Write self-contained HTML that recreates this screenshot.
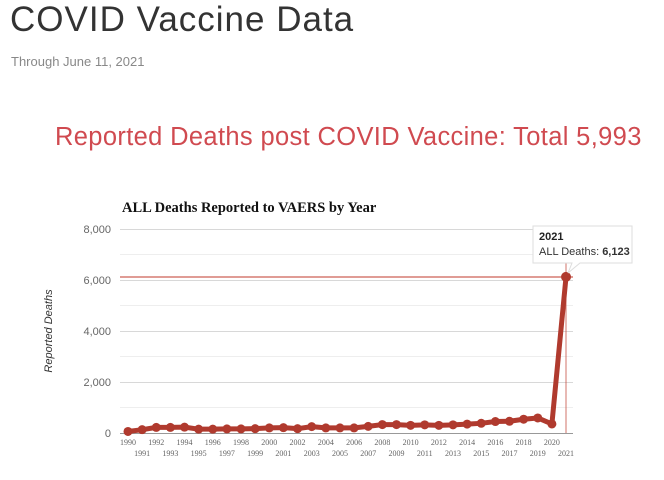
<!DOCTYPE html>
<html><head><meta charset="utf-8"><style>
body{margin:0;background:#fff;width:664px;height:480px;overflow:hidden;position:relative;font-family:"Liberation Sans",sans-serif}
.t{position:absolute;white-space:nowrap}
</style></head><body>
<div class="t" style="left:10px;top:0px;font-size:35px;color:#333;letter-spacing:1px">COVID Vaccine Data</div>
<div class="t" style="left:11px;top:54px;font-size:13px;color:#888">Through June 11, 2021</div>
<div class="t" style="left:55px;top:123px;font-size:25.5px;color:#d04a50;letter-spacing:0.35px">Reported Deaths post COVID Vaccine: Total 5,993</div>
<svg width="664" height="480" style="position:absolute;left:0;top:0" font-family="Liberation Sans, sans-serif">
<text x="122" y="212" font-family="Liberation Serif, serif" font-weight="bold" font-size="14.5" fill="#111">ALL Deaths Reported to VAERS by Year</text>
<g stroke="#eee" stroke-width="1">
<line x1="120" x2="573" y1="254.5" y2="254.5"/><line x1="120" x2="573" y1="305.5" y2="305.5"/><line x1="120" x2="573" y1="356.5" y2="356.5"/><line x1="120" x2="573" y1="407.5" y2="407.5"/>
</g>
<g stroke="#d8d8d8" stroke-width="1">
<line x1="120" x2="573" y1="229.5" y2="229.5"/><line x1="120" x2="573" y1="280.5" y2="280.5"/><line x1="120" x2="573" y1="331.5" y2="331.5"/><line x1="120" x2="573" y1="382.5" y2="382.5"/>
</g>
<line x1="120" x2="573" y1="433.5" y2="433.5" stroke="#999"/>
<g font-size="11" fill="#666" text-anchor="end">
<text x="111" y="233">8,000</text><text x="111" y="284">6,000</text><text x="111" y="335">4,000</text><text x="111" y="386">2,000</text><text x="111" y="437">0</text>
</g>
<text transform="translate(52,331) rotate(-90)" font-size="11" font-style="italic" fill="#333" text-anchor="middle">Reported Deaths</text>
<line x1="120" x2="573" y1="277" y2="277" stroke="#c0392b" stroke-width="1"/>
<line x1="566" x2="566" y1="229" y2="433" stroke="#c0392b" stroke-width="1" opacity="0.7"/>
<g id="ser"></g>
<g id="lab" font-family="Liberation Serif, serif" font-size="8" fill="#666" text-anchor="middle"></g>
<path d="M533 226 H632 V263 H580 L568 273 L572 263 H533 Z" fill="#fff" stroke="#ddd"/>
<text x="539" y="240" font-size="11" font-weight="bold" fill="#222">2021</text>
<text x="539" y="255" font-size="11" fill="#333">ALL Deaths: <tspan font-weight="bold">6,123</tspan></text>
</svg>
<script>
var v=[60,130,220,220,230,150,150,160,160,170,200,210,170,250,200,200,200,260,330,330,300,320,300,320,350,380,450,460,540,590,355,6123];
var pts=v.map(function(d,i){return [128+i*14.13,433-d/8000*204];});
var ns="http://www.w3.org/2000/svg",g=document.getElementById('ser'),l=document.getElementById('lab');
var p=document.createElementNS(ns,'polyline');p.setAttribute('points',pts.map(function(q){return q.join(',')}).join(' '));
p.setAttribute('fill','none');p.setAttribute('stroke','#b03a2e');p.setAttribute('stroke-width','5');p.setAttribute('stroke-linejoin','round');g.appendChild(p);
pts.forEach(function(q,i){var c=document.createElementNS(ns,'circle');c.setAttribute('cx',q[0]);c.setAttribute('cy',q[1]);c.setAttribute('r',i==31?5:4.5);c.setAttribute('fill','#b03a2e');g.appendChild(c);
var t=document.createElementNS(ns,'text');t.setAttribute('x',q[0]);t.setAttribute('y',i%2?456:445);t.textContent=1990+i;l.appendChild(t);});
</script>
</body></html>
